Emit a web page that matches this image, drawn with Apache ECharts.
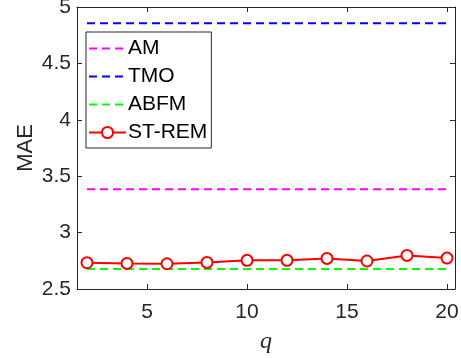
<!DOCTYPE html>
<html>
<head>
<meta charset="utf-8">
<script src="https://cdn.jsdelivr.net/npm/echarts@6/dist/echarts.min.js"></script>
<style>
html,body{margin:0;padding:0;background:#fff;}
#chart{width:461px;height:358px;}
</style>
</head>
<body>
<div id="chart"></div>
<script>
const qValues = [2, 4, 6, 8, 10, 12, 14, 16, 18, 20];
const amValues = [3.385, 3.385, 3.385, 3.385, 3.385, 3.385, 3.385, 3.385, 3.385, 3.385];
const tmoValues = [4.857, 4.857, 4.857, 4.857, 4.857, 4.857, 4.857, 4.857, 4.857, 4.857];
const abfmValues = [2.677, 2.677, 2.677, 2.677, 2.677, 2.677, 2.677, 2.677, 2.677, 2.677];
const stRemValues = [2.733, 2.727, 2.724, 2.736, 2.754, 2.754, 2.771, 2.748, 2.798, 2.774];
const seriesNames = ['AM', 'TMO', 'ABFM', 'ST-REM'];
const xTickValues = [5, 10, 15, 20];
const yTickValues = [2.5, 3, 3.5, 4, 4.5, 5];

const pair = (vals) => qValues.map((q, i) => [q, vals[i]]);
const axisColor = '#262626';
const font = 'Liberation Sans, Arial, sans-serif';

const chart = echarts.init(document.getElementById('chart'), null, {renderer: 'canvas'});
const xBase = {
  type: 'value', min: 1.5, max: 20.4, splitNumber: 4, minInterval: 5, maxInterval: 5,
  axisLine: {show: true, onZero: false, lineStyle: {color: axisColor, width: 1}},
  axisTick: {show: true, inside: true, length: 5, lineStyle: {color: axisColor}},
  splitLine: {show: false}
};
const yBase = {
  type: 'value', min: 2.5, max: 5, interval: 0.5,
  axisLine: {show: true, onZero: false, lineStyle: {color: axisColor, width: 1}},
  axisTick: {show: true, inside: true, length: 5, lineStyle: {color: axisColor}},
  splitLine: {show: false}
};
const dashed = (name, vals, color) => ({
  name, type: 'line', data: pair(vals), symbol: 'none', silent: true,
  lineStyle: {color, width: 2, type: [8, 5]}, itemStyle: {color}
});
const legendData = seriesNames.map((n) => n === 'ST-REM'
  ? {name: n}
  : {name: n, itemStyle: {opacity: 0}});
chart.setOption({
  animation: false,
  backgroundColor: '#fff',
  grid: {left: 77, right: 6, top: 7, bottom: 69, containLabel: false, outerBoundsMode: 'none'},
  legend: {
    orient: 'vertical', left: 86, top: 32,
    data: legendData,
    itemWidth: 37, itemHeight: 14, itemGap: 7,
    padding: [6, 4, 5, 2],
    borderColor: axisColor, borderWidth: 1, backgroundColor: '#fff',
    textStyle: {fontFamily: font, fontSize: 21, color: '#000', padding: [0, 0, 0, -3]}
  },
  xAxis: [
    Object.assign({}, xBase, {
      position: 'bottom',
      name: 'q', nameLocation: 'middle', nameGap: 41, nameMoveOverlap: false,
      nameTextStyle: {fontFamily: 'Liberation Serif, Times New Roman, serif', fontStyle: 'italic', fontSize: 24, color: axisColor},
      axisLabel: {show: true, fontFamily: font, fontSize: 21, color: axisColor, margin: 13,
        showMinLabel: false, showMaxLabel: false,
        formatter: (v) => xTickValues.includes(v) ? String(v) : ''}
    }),
    Object.assign({}, xBase, {position: 'top', axisLabel: {show: false}})
  ],
  yAxis: [
    Object.assign({}, yBase, {
      position: 'left',
      name: 'MAE', nameLocation: 'middle', nameGap: 40, nameRotate: 90, nameMoveOverlap: false,
      nameTextStyle: {fontFamily: font, fontSize: 22, color: axisColor},
      axisLabel: {show: true, fontFamily: font, fontSize: 21, color: axisColor, margin: 6,
        formatter: (v) => yTickValues.includes(v) ? String(v) : ''}
    }),
    Object.assign({}, yBase, {position: 'right', axisLabel: {show: false}})
  ],
  series: [
    dashed('AM', amValues, '#ff00ff'),
    dashed('TMO', tmoValues, '#0000ff'),
    dashed('ABFM', abfmValues, '#00ff00'),
    {
      name: 'ST-REM', type: 'line', data: pair(stRemValues),
      symbol: 'emptyCircle', symbolSize: 11, showAllSymbol: true,
      lineStyle: {color: '#ff0000', width: 2},
      itemStyle: {color: '#ff0000', borderColor: '#ff0000', borderWidth: 2}
    }
  ]
});
</script>
</body>
</html>
